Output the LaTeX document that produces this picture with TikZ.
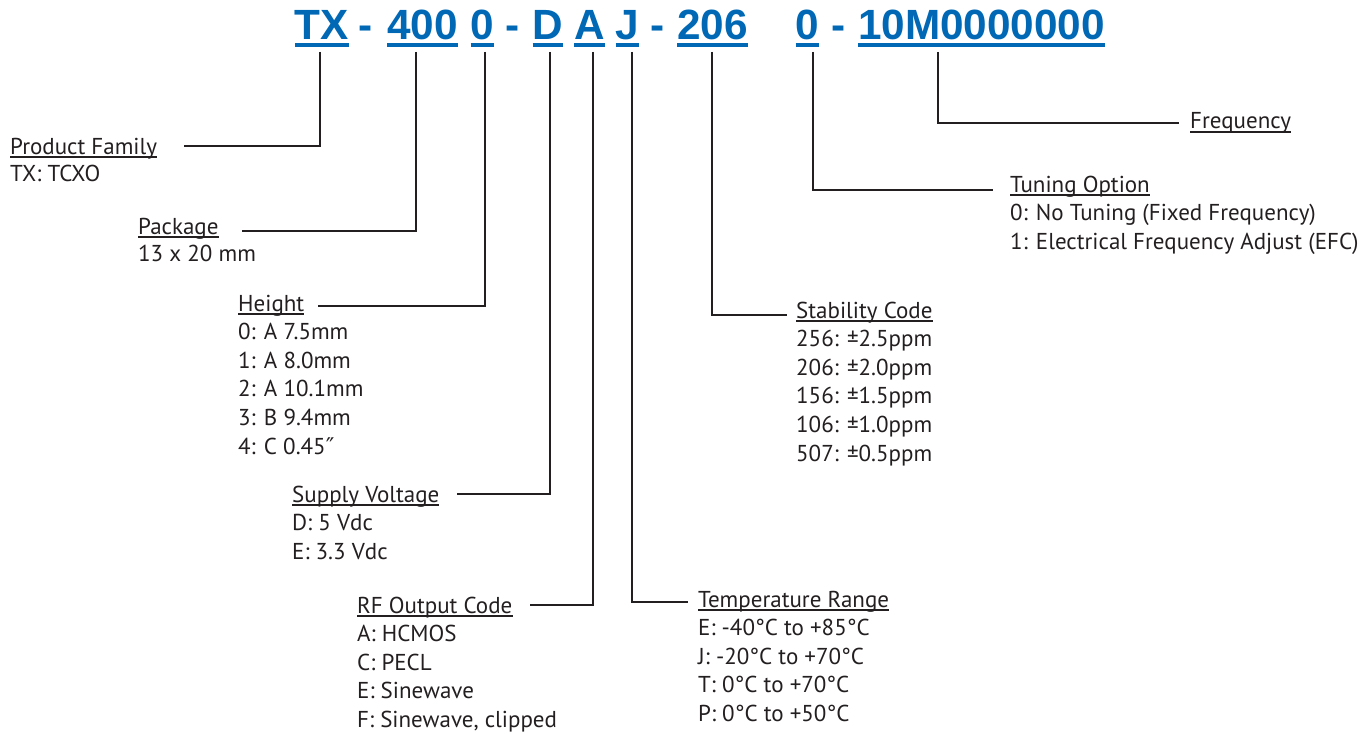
\documentclass[tikz,border=0pt]{standalone}
\usepackage{fontspec}
\setmainfont{PT Sans}
\newfontfamily\codefont{Liberation Sans}
\newfontfamily\primefont{DejaVu Sans}
\definecolor{codeblue}{RGB}{0,104,180}
\definecolor{ink}{RGB}{35,31,32}
\tikzset{
    codetext/.style ={
        anchor=base,
        inner sep=0pt,
        text=codeblue,
        font=\codefont\bfseries\fontsize{42.3bp}{50bp}\selectfont
    },
    headtext/.style ={
        anchor=base west,
        inner sep=0pt,
        text=ink,
        font=\fontsize{23bp}{28bp}\selectfont
    },
    itemtext/.style ={
        headtext
    },
    leader/.style ={
        draw=ink,
        line width=2.6bp
    },
    codeline/.style ={
        draw=codeblue,
        line width=4bp
    },
    headline/.style ={
        draw=ink,
        line width=1.1bp
    }
}

\begin{document}
\begin{tikzpicture}[x=1bp,y=-1bp]
    \useasboundingbox (0,0) rectangle (1371,733);
    % part number
    \node[codetext] (tx) at (322,40) {TX};
    \node[codetext] (d1) at (366,40) {-};
    \node[codetext] (c400) at (422.5,40) {400};
    \node[codetext] (hcode) at (482.5,40) {0};
    \node[codetext] (d2) at (513,40) {-};
    \node[codetext] (vcode) at (548,40) {D};
    \node[codetext] (rfcode) at (589.5,40) {A};
    \node[codetext] (tcode) at (627.5,40) {J};
    \node[codetext] (d3) at (658,40) {-};
    \node[codetext] (scode) at (712.5,40) {206};
    \node[codetext] (ocode) at (807.5,40) {0};
    \node[codetext] (d4) at (839,40) {-};
    \node[codetext] (fcode) at (981.5,40) {10M0000000};
    \foreach \c in {tx,c400,hcode,vcode,rfcode,tcode,scode,ocode,fcode}
        \draw[codeline] ([yshift=-4.7]\c.base west) -- ([yshift=-4.7]\c.base east);

    % headings
    \node[headtext] (pfam) at (10,154) {Product Family};
    \node[headtext] (pkg) at (138,234) {Package};
    \node[headtext] (hgt) at (238,311) {Height};
    \node[headtext] (volt) at (292,502) {Supply Voltage};
    \node[headtext] (rfout) at (357,613) {RF Output Code};
    \node[headtext] (temp) at (698,607) {Temperature Range};
    \node[headtext] (stab) at (796,318) {Stability Code};
    \node[headtext] (tune) at (1010,192) {Tuning Option};
    \node[headtext] (freq) at (1190,129) {Frequency};
    \foreach \h in {pfam,pkg,hgt,volt,rfout,temp,stab,tune,freq}
        \draw[headline] ([yshift=-3]\h.base west) -- ([yshift=-3]\h.base east);

    % options
    \node[itemtext] (pfam-1) at (10,181) {TX: TCXO};
    \node[itemtext] (pkg-1) at (138,261) {13 x 20 mm};
    \foreach \t [count=\i] in {0: A 7.5mm, 1: A 8.0mm, 2: A 10.1mm, 3: B 9.4mm, 4: C 0.45{\primefont ″}}
        \node[itemtext] (hgt-\i) at (238,311+28.6*\i) {\t};
    \foreach \t [count=\i] in {D: 5 Vdc, E: 3.3 Vdc}
        \node[itemtext] (volt-\i) at (292,502+28.6*\i) {\t};
    \foreach \t [count=\i] in {A: HCMOS, C: PECL, E: Sinewave, {F: Sinewave, clipped}}
        \node[itemtext] (rfout-\i) at (357,613+28.6*\i) {\t};
    \foreach \t [count=\i] in {E: -40°C to +85°C, J: -20°C to +70°C, T: 0°C to +70°C, P: 0°C to +50°C}
        \node[itemtext] (temp-\i) at (698,607+28.6*\i) {\t};
    \foreach \t [count=\i] in {256: ±2.5ppm, 206: ±2.0ppm, 156: ±1.5ppm, 106: ±1.0ppm, 507: ±0.5ppm}
        \node[itemtext] (stab-\i) at (796,318+28.6*\i) {\t};
    \foreach \t [count=\i] in {0: No Tuning (Fixed Frequency), 1: Electrical Frequency Adjust (EFC)}
        \node[itemtext] (tune-\i) at (1010,192+28.6*\i) {\t};

    % leader ends
    \coordinate (pfam-end) at (184,146);
    \coordinate (pkg-end) at (242,231);
    \coordinate (hgt-end) at (318,306);
    \coordinate (volt-end) at (457,494);
    \coordinate (rfout-end) at (530,605);
    \coordinate (temp-end) at (688,602);
    \coordinate (stab-end) at (787,315);
    \coordinate (tune-end) at (993,190);
    \coordinate (freq-end) at (1179,123);

    % leaders
    \draw[leader] ([xshift=-2,yshift=-12]tx.base) |- (pfam-end);
    \draw[leader] ([xshift=-6.5,yshift=-12]c400.base) |- (pkg-end);
    \draw[leader] ([xshift=2.5,yshift=-12]hcode.base) |- (hgt-end);
    \draw[leader] ([xshift=2,yshift=-12]vcode.base) |- (volt-end);
    \draw[leader] ([xshift=3.5,yshift=-12]rfcode.base) |- (rfout-end);
    \draw[leader] ([xshift=4.5,yshift=-12]tcode.base) |- (temp-end);
    \draw[leader] ([xshift=-0.5,yshift=-12]scode.base) |- (stab-end);
    \draw[leader] ([xshift=5.5,yshift=-12]ocode.base) |- (tune-end);
    \draw[leader] ([xshift=-43.5,yshift=-12]fcode.base) |- (freq-end);
\end{tikzpicture}
\end{document}
